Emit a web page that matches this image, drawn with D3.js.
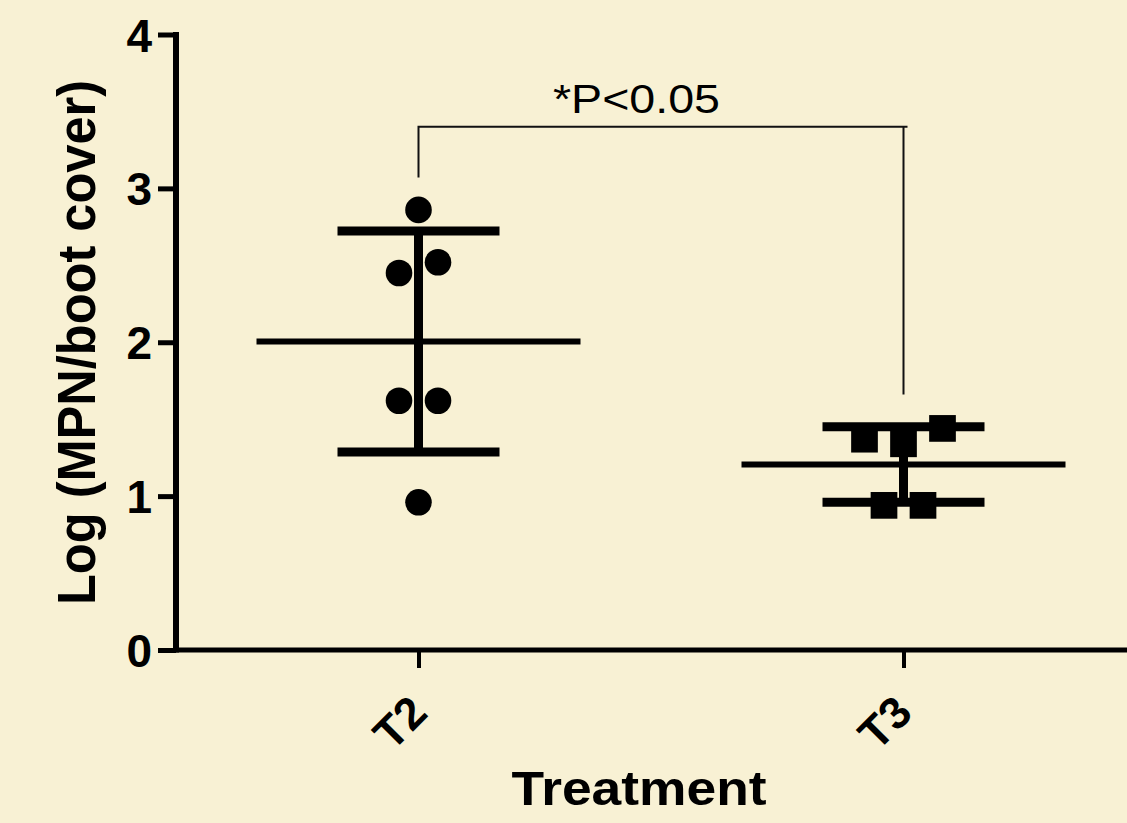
<!DOCTYPE html>
<html>
<head>
<meta charset="utf-8">
<script src="https://cdn.jsdelivr.net/npm/d3@7"></script>
<style>
  html, body { margin: 0; padding: 0; background: #F8F1D4; }
  svg { display: block; }
  text { font-family: "Liberation Sans", Arial, sans-serif; fill: #000; }
</style>
</head>
<body>
<svg id="chart" width="1127" height="823"></svg>
<script>
// ---- data ----
const categories = ["T2", "T3"];
const t2Values = [2.86, 2.45, 2.52, 1.62, 1.62, 0.96];
const t3Values = [1.37, 1.34, 1.44, 0.94, 0.94];
const yTicks = [0, 1, 2, 3, 4];
const yLabel = "Log (MPN/boot cover)";
const xLabel = "Treatment";
const sigLabel = "*P<0.05";
const sigBracket = { y: 3.4, leftEnd: 3.07, rightEnd: 1.66 };

// ---- layout ----
const W = 1127, H = 823;
const svg = d3.select("#chart");
svg.append("rect").attr("width", W).attr("height", H).attr("fill", "#F8F1D4");

const x = d3.scalePoint().domain(categories).range([176, 1146]).padding(0.5);
const y = d3.scaleLinear().domain([0, 4]).range([650, 34.5]);

const groups = [
  { name: "T2", values: t2Values, shape: "circle" },
  { name: "T3", values: t3Values, shape: "square" }
];

// ---- axes ----
const yAxis = d3.axisLeft(y).tickValues(yTicks).tickSize(18).tickPadding(6).tickFormat(d3.format("d"));
const gy = svg.append("g").attr("transform", "translate(176,0)").call(yAxis);
gy.select(".domain").remove();
gy.selectAll(".tick line").attr("stroke", "#000").attr("stroke-width", 5);
gy.selectAll(".tick text").attr("font-size", 46).attr("font-weight", "bold").attr("dy", "0.36em");
svg.append("line").attr("x1", 176).attr("x2", 176).attr("y1", y(4) - 2.5).attr("y2", y(0) + 2.5)
  .attr("stroke", "#000").attr("stroke-width", 6);

const xAxis = d3.axisBottom(x).tickSize(18).tickFormat(() => "");
const gx = svg.append("g").attr("transform", "translate(0,650)").call(xAxis);
gx.select(".domain").remove();
gx.selectAll(".tick line").attr("stroke", "#000").attr("stroke-width", 4);
svg.append("line").attr("x1", 173).attr("x2", W).attr("y1", y(0)).attr("y2", y(0))
  .attr("stroke", "#000").attr("stroke-width", 5);

// rotated category labels
svg.selectAll(".xlab").data(categories).join("text")
  .attr("class", "xlab")
  .attr("transform", d => `translate(${x(d) + 11},715) rotate(-45)`)
  .attr("text-anchor", "end")
  .attr("font-size", 45).attr("font-weight", "bold")
  .text(d => d);

// axis titles
svg.append("text")
  .attr("x", 511.5).attr("y", 805)
  .attr("font-size", 48).attr("font-weight", "bold")
  .attr("textLength", 255).attr("lengthAdjust", "spacingAndGlyphs")
  .text(xLabel);

svg.append("text")
  .attr("transform", "translate(95,605) rotate(-90)")
  .attr("font-size", 53).attr("font-weight", "bold")
  .attr("textLength", 525).attr("lengthAdjust", "spacingAndGlyphs")
  .text(yLabel);

// ---- data marks ----
const dotR = 13.3, sq = 26.7, spacing = 39;

function jitter(values) {
  // cluster points that would overlap vertically, spread each cluster horizontally
  const idx = values.map((v, i) => i).sort((a, b) => values[a] - values[b]);
  const clusters = [];
  let cur = [];
  idx.forEach(i => {
    if (cur.length && Math.abs(y(values[i]) - y(values[cur[cur.length - 1]])) > 2 * dotR) {
      clusters.push(cur); cur = [];
    }
    cur.push(i);
  });
  if (cur.length) clusters.push(cur);
  const off = new Array(values.length).fill(0);
  clusters.forEach(c => {
    c.sort((a, b) => a - b);
    c.forEach((i, k) => { off[i] = (k - (c.length - 1) / 2) * spacing; });
  });
  return off;
}

groups.forEach(g => {
  const cx = x(g.name);
  const mean = d3.mean(g.values);
  const sd = d3.deviation(g.values);
  const off = jitter(g.values);
  const gg = svg.append("g");

  // mean line
  gg.append("line").attr("x1", cx - 162).attr("x2", cx + 162)
    .attr("y1", y(mean)).attr("y2", y(mean)).attr("stroke", "#000").attr("stroke-width", 6);
  // SD whisker
  gg.append("line").attr("x1", cx).attr("x2", cx)
    .attr("y1", y(mean + sd)).attr("y2", y(mean - sd)).attr("stroke", "#000").attr("stroke-width", 9);
  [mean + sd, mean - sd].forEach(v => {
    gg.append("line").attr("x1", cx - 81).attr("x2", cx + 81)
      .attr("y1", y(v)).attr("y2", y(v)).attr("stroke", "#000").attr("stroke-width", 9);
  });

  // points
  if (g.shape === "circle") {
    gg.selectAll("circle").data(g.values).join("circle")
      .attr("cx", (d, i) => cx + off[i]).attr("cy", d => y(d)).attr("r", dotR).attr("fill", "#000");
  } else {
    gg.selectAll("rect.pt").data(g.values).join("rect").attr("class", "pt")
      .attr("x", (d, i) => cx + off[i] - sq / 2).attr("y", d => y(d) - sq / 2)
      .attr("width", sq).attr("height", sq).attr("fill", "#000");
  }
});

// ---- significance bracket ----
const bx1 = x("T2"), bx2 = x("T3");
svg.append("path")
  .attr("d", `M${bx1},${y(sigBracket.leftEnd)} V${y(sigBracket.y)} H${bx2 + 4} M${bx2},${y(sigBracket.y)} V${y(sigBracket.rightEnd)}`)
  .attr("fill", "none").attr("stroke", "#111").attr("stroke-width", 2);
svg.append("text")
  .attr("x", 553).attr("y", 113)
  .attr("font-size", 41)
  .attr("textLength", 167).attr("lengthAdjust", "spacingAndGlyphs")
  .text(sigLabel);
</script>
</body>
</html>
